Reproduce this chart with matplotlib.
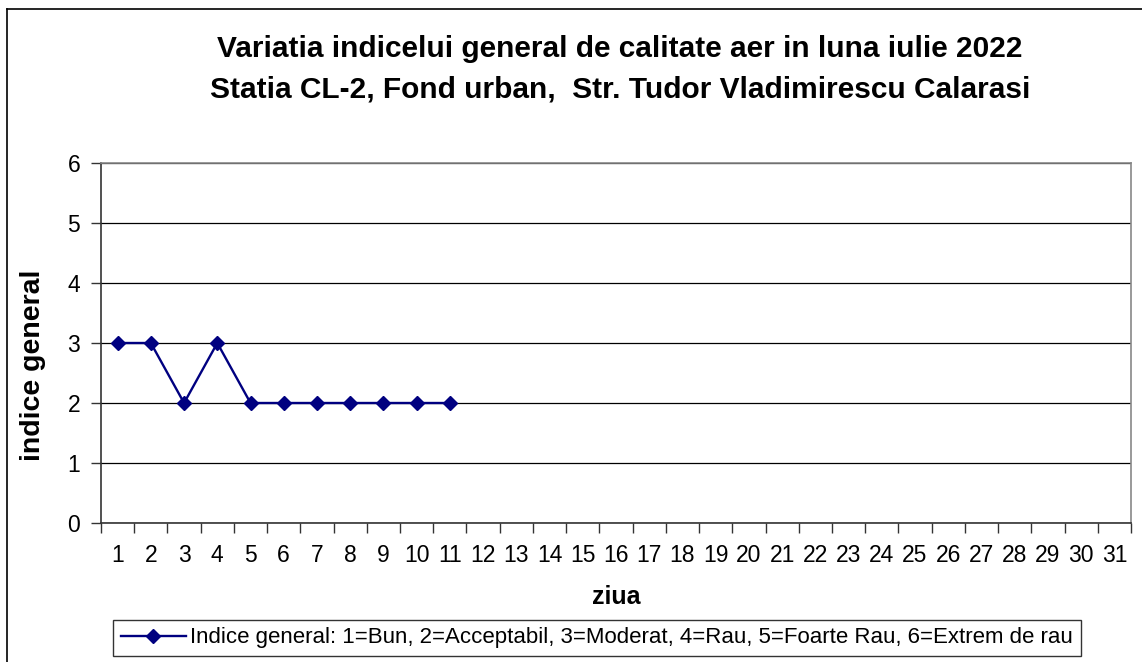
import matplotlib.pyplot as plt
from matplotlib.lines import Line2D

plt.rcParams['font.family'] = ['Liberation Sans', 'DejaVu Sans']

zile = list(range(1, 32))
zile_masurate = [1, 2, 3, 4, 5, 6, 7, 8, 9, 10, 11]
indice = [3, 3, 2, 3, 2, 2, 2, 2, 2, 2, 2]

titlu = ('Variatia indicelui general de calitate aer in luna iulie 2022\n'
         'Statia CL-2, Fond urban,  Str. Tudor Vladimirescu Calarasi')
eticheta = 'Indice general: 1=Bun, 2=Acceptabil, 3=Moderat, 4=Rau, 5=Foarte Rau, 6=Extrem de rau'

W, H = 1142, 662
fig = plt.figure(figsize=(W / 100, H / 100), dpi=100)
fig.patch.set_facecolor('white')

# chenar exterior (doar sus si stanga se vad)
fig.add_artist(Line2D([7 / W, 7 / W], [0, 1 - 9 / H], color='black', lw=1.2, transform=fig.transFigure))
fig.add_artist(Line2D([7 / W, 1], [1 - 9 / H, 1 - 9 / H], color='black', lw=1.2, transform=fig.transFigure))

ax = fig.add_axes([101 / W, (H - 523) / H, (1131 - 101) / W, (523 - 163) / H])
ax.plot(zile_masurate, indice, color='#000080', lw=1.7, marker='D', markersize=7,
        label=eticheta)

ax.set_xlim(0.5, 31.5)
ax.set_ylim(0, 6)
ax.set_yticks(range(0, 7))
ax.yaxis.grid(True, color='black', lw=0.9)
ax.set_axisbelow(True)

ax.set_xticks([z - 0.5 for z in zile] + [31.5])
ax.set_xticklabels([])
ax.set_xticks(zile, minor=True)
ax.set_xticklabels([str(z) for z in zile], minor=True)
ax.tick_params(axis='x', which='minor', length=0, labelsize=16.5, pad=15)
ax.tick_params(axis='x', which='major', length=7, width=1, color='#333333', direction='out')
ax.tick_params(axis='y', length=7, width=1, color='#333333', labelsize=16.5, pad=8)

for s in ['left', 'bottom']:
    ax.spines[s].set_color('#333333')
    ax.spines[s].set_linewidth(1.2)
for s in ['top', 'right']:
    ax.spines[s].set_color('#888888')
    ax.spines[s].set_linewidth(1.2)

ax.set_xlabel('ziua', fontsize=18, fontweight='bold', labelpad=13)
ax.set_ylabel('indice general', fontsize=20.5, fontweight='bold')
ax.yaxis.set_label_coords(-55 / 1030, (523 - 365) / 360)

fig.text(620 / W, 1 - 69 / H, titlu, ha='center', va='center', fontsize=21.5,
         fontweight='bold', linespacing=1.55)

leg = fig.legend(loc='center', bbox_to_anchor=(597 / W, 1 - 638 / H), fontsize=16,
                 frameon=True, fancybox=False, edgecolor='black', handlelength=2.9,
                 borderpad=0.35, handletextpad=0.2)
leg.get_frame().set_linewidth(1)

fig.savefig('out.png', dpi=100)
